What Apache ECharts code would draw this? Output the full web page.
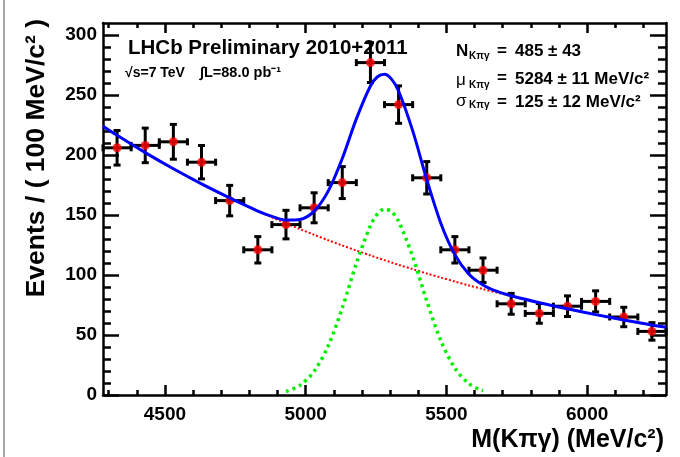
<!DOCTYPE html>
<html><head><meta charset="utf-8">
<script src="https://cdn.jsdelivr.net/npm/echarts@6/dist/echarts.min.js"></script>
<style>html,body{margin:0;padding:0;background:#fff}#c{width:680px;height:457px}</style>
</head><body><div id="c"></div>
<script>
// ---- data ----
const binCenters = [4330,4430,4530,4630,4730,4830,4930,5030,5130,5230,5330,5430,5530,5630,5730,5830,5930,6030,6130,6230];
const counts = [206,208,211,194,162,121,142,156,177,277,242,181,121,104,76,68,74,78,65,53];
const countErrors = [14.4,14.4,14.5,13.9,12.7,11.0,11.9,12.5,13.3,16.6,15.6,13.5,11.0,10.2,8.7,8.2,8.6,8.8,8.1,7.3];
const binWidth = 100;

const fitX = [4280,4330,4430,4530,4630,4730,4830,4880,4930,4980,5030,5080,5130,5180,5230,5255,5280,5305,5330,5380,5430,5480,5530,5580,5630,5680,5730,5830,5930,6030,6130,6230,6280];
const fitTotal = [224,216.4,202.0,188.5,175.9,164.2,153.3,148.9,145.8,146.3,153.2,169.9,197.1,230.1,257.5,265.2,267.3,263.2,253.3,220.3,179.7,143.2,117.0,100.7,91.7,86.3,82.7,76.9,71.8,67.0,62.5,58.3,56.4];
const fitBackground = [224,216.4,202.0,188.5,175.9,164.2,153.3,148.1,143.0,138.2,133.5,129.0,124.6,120.4,116.3,114.3,112.4,110.4,108.5,104.9,101.3,97.9,94.6,91.3,88.3,85.3,82.4,76.9,71.8,67.0,62.5,58.3,56.4];
const fitSignal = [null,null,null,null,null,null,null,null,2.8,8.1,19.7,40.9,72.5,109.7,141.2,150.9,154.9,152.8,144.8,115.4,78.4,45.3,22.4,9.4,3.4,null,null,null,null,null,null,null,null];

const xRange = [4280, 6280];
const yRange = [0, 310];
const xMajorTicks = [4500,5000,5500,6000];
const xMinorTicks = [4300,4400,4600,4700,4800,4900,5100,5200,5300,5400,5600,5700,5800,5900,6100,6200];
const yMajorTicks = [0,50,100,150,200,250,300];
const yMinorTicks = [10,20,30,40,60,70,80,90,110,120,130,140,160,170,180,190,210,220,230,240,260,270,280,290];

// ---- chart ----
const FONT = 'Liberation Sans';
const pairs = (ys) => fitX.map((x, i) => [x, ys[i]]).filter(p => p[1] !== null);
const chart = echarts.init(document.getElementById('c'), null, {renderer: 'canvas'});

function xAx(pos, ticks, len, showLine, showLabel) {
  return {
    type: 'value', position: pos, min: xRange[0], max: xRange[1],
    axisLine: {show: showLine, onZero: false, lineStyle: {color: '#000', width: 2.5}},
    axisTick: {show: true, inside: true, length: len, customValues: ticks, lineStyle: {color: '#000', width: 2.5}},
    axisLabel: {show: showLabel, customValues: ticks, formatter: v => String(v), color: '#000', fontFamily: FONT, fontWeight: 'bold', fontSize: 19, margin: 10},
    splitLine: {show: false}
  };
}
function yAx(pos, ticks, len, showLine, showLabel) {
  return {
    type: 'value', position: pos, min: yRange[0], max: yRange[1],
    axisLine: {show: showLine, onZero: false, lineStyle: {color: '#000', width: 2.5}},
    axisTick: {show: true, inside: true, length: len, customValues: ticks, lineStyle: {color: '#000', width: 2.5}},
    axisLabel: {show: showLabel, customValues: ticks, formatter: v => String(v), color: '#000', fontFamily: FONT, fontWeight: 'bold', fontSize: 19, margin: 6},
    splitLine: {show: false}
  };
}

function txt(x, y, text, size, opts) {
  opts = opts || {};
  return {
    type: 'text', x: x, y: y, rotation: opts.rotation || 0, z: 100,
    style: {
      text: text, fill: '#000', fontFamily: FONT,
      fontWeight: opts.weight || 'bold', fontSize: size,
      textAlign: opts.align || 'left', textVerticalAlign: 'middle', verticalAlign: 'middle'
    }
  };
}

const option = {
  animation: false,
  backgroundColor: '#fff',
  grid: {left: 103, right: 14, top: 23, bottom: 62, containLabel: false},
  xAxis: [
    xAx('bottom', xMajorTicks, 10, true, true),
    xAx('bottom', xMinorTicks, 5, false, false),
    xAx('top', xMajorTicks, 10, true, false),
    xAx('top', xMinorTicks, 5, false, false)
  ],
  yAxis: [
    yAx('left', yMajorTicks, 16, true, true),
    yAx('left', yMinorTicks, 8, false, false),
    yAx('right', yMajorTicks, 16, true, false),
    yAx('right', yMinorTicks, 8, false, false)
  ],
  series: [
    {
      type: 'line', name: 'background', data: pairs(fitBackground), showSymbol: false, smooth: 0.3, z: 2,
      lineStyle: {color: '#ff0000', width: 2, type: [2, 2]}
    },
    {
      type: 'line', name: 'signal', data: pairs(fitSignal), showSymbol: false, smooth: 0.3, z: 2,
      lineStyle: {color: '#00f000', width: 3.5, type: [3, 4]}
    },
    {
      type: 'custom', name: 'errors', z: 3,
      data: binCenters.map((x, i) => [x, counts[i], countErrors[i]]),
      renderItem: function (params, api) {
        const x = api.value(0), y = api.value(1), e = api.value(2);
        const t = api.coord([x, y + e]), b = api.coord([x, y - e]);
        const l = api.coord([x - binWidth / 2, y]), r = api.coord([x + binWidth / 2, y]);
        const st = {stroke: '#000', lineWidth: 3};
        const cap = 3.5;
        return {type: 'group', children: [
          {type: 'line', shape: {x1: t[0], y1: t[1], x2: b[0], y2: b[1]}, style: st},
          {type: 'line', shape: {x1: l[0], y1: l[1], x2: r[0], y2: r[1]}, style: st},
          {type: 'line', shape: {x1: t[0] - cap, y1: t[1], x2: t[0] + cap, y2: t[1]}, style: st},
          {type: 'line', shape: {x1: b[0] - cap, y1: b[1], x2: b[0] + cap, y2: b[1]}, style: st},
          {type: 'line', shape: {x1: l[0], y1: l[1] - cap, x2: l[0], y2: l[1] + cap}, style: st},
          {type: 'line', shape: {x1: r[0], y1: r[1] - cap, x2: r[0], y2: r[1] + cap}, style: st}
        ]};
      }
    },
    {
      type: 'scatter', name: 'data', z: 4,
      data: binCenters.map((x, i) => [x, counts[i]]),
      symbol: 'circle', symbolSize: 9,
      itemStyle: {color: '#ff0000', borderWidth: 0}
    },
    {
      type: 'line', name: 'total', data: pairs(fitTotal), showSymbol: false, smooth: 0.3, z: 5,
      lineStyle: {color: '#0000ff', width: 3}
    }
  ],
  graphic: [
    {type: 'line', shape: {x1: 4, y1: 0, x2: 4, y2: 457}, style: {stroke: '#888', lineWidth: 1.5}},
    txt(128, 48, 'LHCb Preliminary 2010+2011', 20.5),
    txt(125, 73, '√s=7 TeV', 14),
    txt(200, 73, '∫L=88.0 pb⁻¹', 14.5),
    txt(456, 51, 'N', 17),
    txt(469, 56, 'Kπγ', 10),
    txt(497, 51, '=', 17),
    txt(515, 51, '485 ± 43', 17),
    txt(456, 80, 'μ', 17, {weight: 'normal'}),
    txt(469, 85, 'Kπγ', 10),
    txt(497, 78, '=', 17),
    txt(515, 79, '5284 ± 11 MeV/c²', 17),
    txt(456, 101, 'σ', 17, {weight: 'normal'}),
    txt(469, 105, 'Kπγ', 10),
    txt(497, 102, '=', 17),
    txt(515, 102, '125 ± 12 MeV/c²', 17),
    txt(664, 440, 'M(Kπγ) (MeV/c²)', 25, {align: 'right'}),
    txt(37, 19, 'Events / ( 100 MeV/c² )', 26.5, {align: 'right', rotation: Math.PI / 2})
  ]
};
chart.setOption(option);
</script>
</body></html>
